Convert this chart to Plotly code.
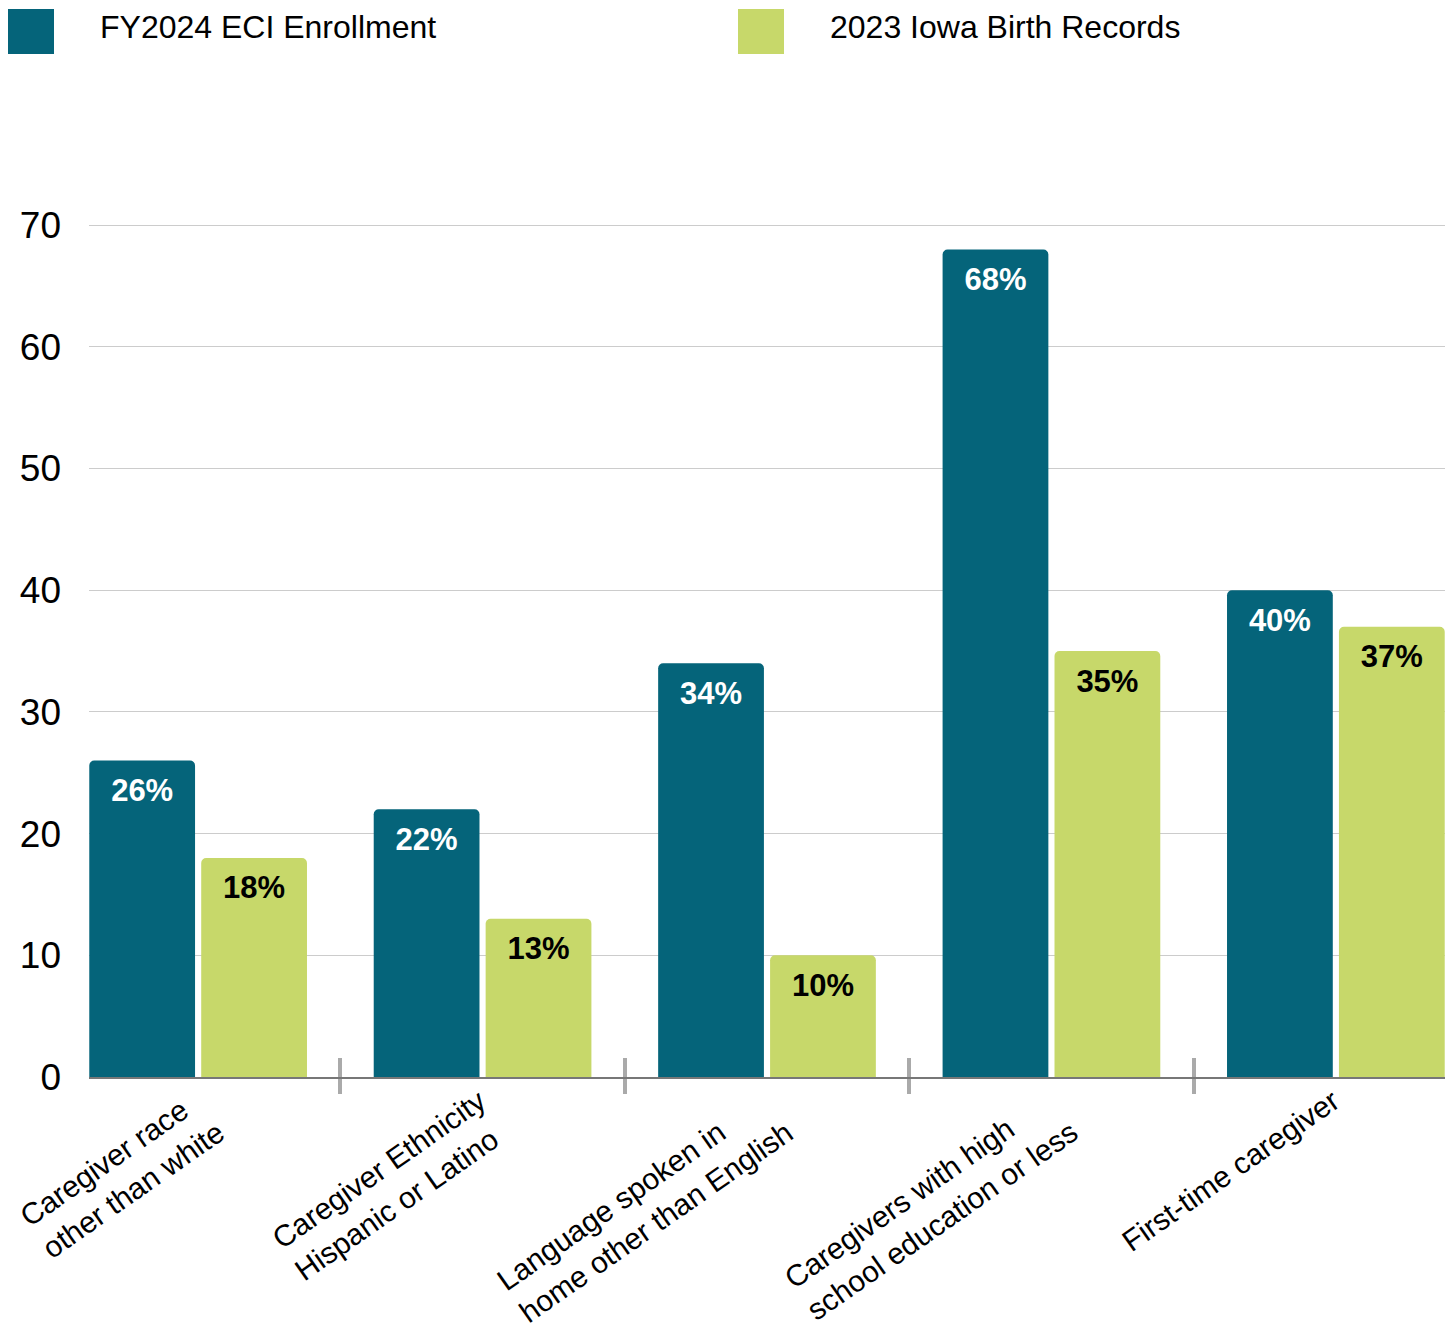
import plotly.graph_objects as go

# ---- data ----
categories = [
    "Caregiver race<br>other than white",
    "Caregiver Ethnicity<br>Hispanic or Latino",
    "Language spoken in<br>home other than English",
    "Caregivers with high<br>school education or less",
    "First-time caregiver",
]
eci_values = [26, 22, 34, 68, 40]
birth_values = [18, 13, 10, 35, 37]
series_names = ["FY2024 ECI Enrollment", "2023 Iowa Birth Records"]
series_colors = ["#05647A", "#C7D86A"]
label_colors = ["white", "black"]
y_ticks = [0, 10, 20, 30, 40, 50, 60, 70]

FONT = "Liberation Sans, Arial, sans-serif"
W, H = 1437, 1320
ML, MR, MT, MB = 81, 0, 211, 251
BARGAP = 0.213
GROUPGAP = 0.055
CAT_FS = 30

fig = go.Figure()
for name, vals, col in zip(series_names, [eci_values, birth_values], series_colors):
    fig.add_trace(go.Bar(
        x=categories, y=vals, name=name, marker=dict(color=col, line=dict(width=0)),
        showlegend=False, hoverinfo="skip",
    ))
# data labels, grouped like the bars
for name, vals, tc in zip(series_names, [eci_values, birth_values], label_colors):
    fig.add_trace(go.Scatter(
        x=categories, y=vals, mode="markers+text",
        text=[f"{v}%" for v in vals], textposition="bottom center",
        textfont=dict(family=FONT, size=31, color=tc, weight="bold"),
        marker=dict(size=26, color="rgba(0,0,0,0)"),
        showlegend=False, hoverinfo="skip", cliponaxis=False,
    ))
# dummy trace for the overlay axis carrying the upper half of category ticks
fig.add_trace(go.Scatter(x=categories, y=[None] * len(categories), xaxis="x2",
                         showlegend=False, hoverinfo="skip", mode="markers"))

n = len(categories)
pw = W - ML - MR
ph = H - MT - MB
half_group = (1 - BARGAP) / 2 * (1 - GROUPGAP / 2)
xr = [-half_group - 0.001, n - 1 + half_group + 0.001]

common_x = dict(type="category", categoryarray=categories, range=xr,
                tickson="boundaries", tickcolor="#AAAAAA", tickwidth=4,
                showgrid=False, showticklabels=False)
fig.update_layout(
    width=W, height=H,
    margin=dict(l=ML, r=MR, t=MT, b=MB),
    paper_bgcolor="white", plot_bgcolor="white",
    barmode="group", bargap=BARGAP, bargroupgap=GROUPGAP, barcornerradius=5,
    scattermode="group", scattergap=BARGAP,
    font=dict(family=FONT, color="black"),
    xaxis=dict(**common_x, ticks="outside", ticklen=15,
               showline=True, linecolor="#777777", linewidth=1.5, layer="below traces"),
    xaxis2=dict(**common_x, ticks="inside", ticklen=19, overlaying="x", anchor="y",
                side="bottom", showline=False, matches="x"),
    yaxis=dict(range=[0, 70.5], tickvals=y_ticks, showgrid=True, gridcolor="#CCCCCC",
               gridwidth=1.3, zeroline=False, showline=False, ticks="",
               ticklabelstandoff=27,
               tickfont=dict(family=FONT, size=37, color="black")),
)

# category labels: rotated, lines left-aligned, block's right edge at the category
for cat in categories:
    nlines = cat.count("<br>") + 1
    h = 1.117 * CAT_FS + (nlines - 1) * 1.3 * CAT_FS
    fig.add_annotation(
        xref="x", yref="paper", x=cat, y=0, text=cat, showarrow=False,
        textangle=-35, align="left", xanchor="right", yanchor="top",
        xshift=-10 + 0.574 * h, yshift=-6, borderpad=0, borderwidth=0,
        font=dict(family=FONT, size=CAT_FS, color="black"),
    )

# legend drawn as big squares + text
def px_x(p):
    return (p - ML) / pw

def px_y(p):
    return (H - MB - p) / ph

legend_x = [0, 730]
for lx, name, col in zip(legend_x, series_names, series_colors):
    fig.add_shape(type="rect", xref="paper", yref="paper",
                  x0=px_x(lx), x1=px_x(lx + 46), y0=px_y(46), y1=px_y(1),
                  fillcolor=col, line=dict(width=0))
    fig.add_annotation(xref="paper", yref="paper", x=px_x(lx + 92), y=px_y(19),
                       text=name, showarrow=False, xanchor="left", yanchor="middle",
                       borderpad=0, borderwidth=0,
                       font=dict(family=FONT, size=32, color="black"))

fig.write_html("out.html")
